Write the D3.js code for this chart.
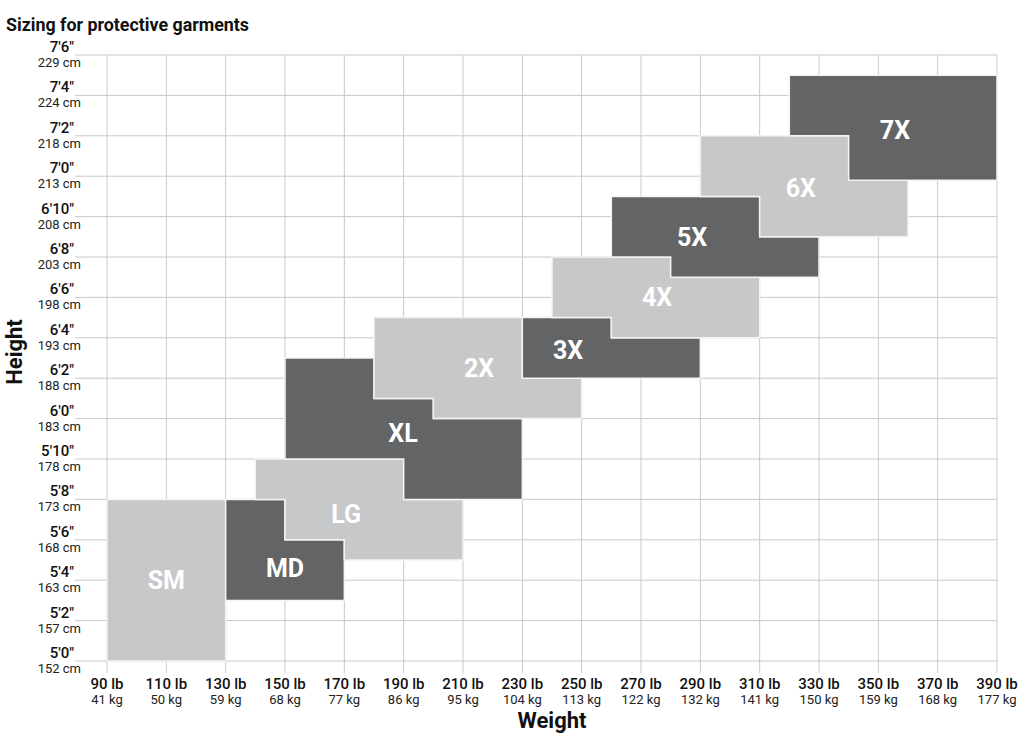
<!DOCTYPE html>
<html>
<head>
<meta charset="utf-8">
<script src="https://cdn.jsdelivr.net/npm/d3@7"></script>
<style>
  html, body { margin: 0; padding: 0; background: #fff; }
  svg { display: block; font-family: Roboto, "Noto Sans", sans-serif; }
</style>
</head>
<body>
<svg id="chart" width="1024" height="746"></svg>
<script>
// ---------------- data ----------------
const titleText = "Sizing for protective garments";
const xTitle = "Weight";
const yTitle = "Height";

// x ticks (weight)
const weightLb = [90,110,130,150,170,190,210,230,250,270,290,310,330,350,370,390];
const weightKg = [41,50,59,68,77,86,95,104,113,122,132,141,150,159,168,177];

// y ticks (height, inches)
const heightIn = [60,62,64,66,68,70,72,74,76,78,80,82,84,86,88,90];
const heightFtLabel = ["5'0\u2033","5'2\u2033","5'4\u2033","5'6\u2033","5'8\u2033","5'10\u2033","6'0\u2033","6'2\u2033","6'4\u2033","6'6\u2033","6'8\u2033","6'10\u2033","7'0\u2033","7'2\u2033","7'4\u2033","7'6\u2033"];
const heightCm = [152,157,163,168,173,178,183,188,193,198,203,208,213,218,224,229];

// garment sizes: outline of each region as [weight lb, height in]
const sizeNames = ["SM","MD","LG","XL","2X","3X","4X","5X","6X","7X"];
const sizeTones = ["light","dark","light","dark","light","dark","light","dark","light","dark"];
const sizeOutlines = [
  [[90,60],[130,60],[130,68],[90,68]],
  [[130,68],[150,68],[150,66],[170,66],[170,63],[130,63]],
  [[140,70],[190,70],[190,68],[210,68],[210,65],[170,65],[170,66],[150,66],[150,68],[140,68]],
  [[150,75],[180,75],[180,73],[200,73],[200,72],[230,72],[230,68],[190,68],[190,70],[150,70]],
  [[180,77],[230,77],[230,74],[250,74],[250,72],[200,72],[200,73],[180,73]],
  [[230,77],[260,77],[260,76],[290,76],[290,74],[230,74]],
  [[240,80],[280,80],[280,79],[310,79],[310,76],[260,76],[260,77],[240,77]],
  [[260,83],[310,83],[310,81],[330,81],[330,79],[280,79],[280,80],[260,80]],
  [[290,86],[340,86],[340,83.8],[360,83.8],[360,81],[310,81],[310,83],[290,83]],
  [[320,89],[390,89],[390,83.8],[340,83.8],[340,86],[320,86]]
];
const labelWeight = [110,150,170.6,189.8,215.4,245.4,275.4,287.2,323.9,355.6];
const labelHeight = [64,64.6,67.3,71.3,74.5,75.4,78,81,83.4,86.3];

// ---------------- drawing ----------------
const svg = d3.select("#chart");
const toneColor = { light: "#c7c8ca", dark: "#636466" };
const gridColor = "#c9c9cb";

const x = d3.scaleLinear().domain([90, 390]).range([107, 997]);
const y = d3.scaleLinear().domain([60, 90]).range([661, 55]);

// grid
const grid = svg.append("g");
grid.selectAll("line.h").data(heightIn).join("line")
  .attr("class", "h")
  .attr("x1", 75).attr("x2", x(390))
  .attr("y1", d => y(d)).attr("y2", d => y(d))
  .attr("stroke", gridColor).attr("stroke-width", 1);
grid.selectAll("line.v").data(weightLb).join("line")
  .attr("class", "v")
  .attr("x1", d => x(d)).attr("x2", d => x(d))
  .attr("y1", y(90)).attr("y2", y(60) + 12)
  .attr("stroke", gridColor).attr("stroke-width", 1);

// size regions
const line = d3.line().x(d => x(d[0])).y(d => y(d[1])).curve(d3.curveLinearClosed);
svg.append("g").selectAll("path").data(sizeOutlines).join("path")
  .attr("d", d => line(d))
  .attr("fill", (d, i) => toneColor[sizeTones[i]])
  .attr("stroke", "#f4f4f4")
  .attr("stroke-width", 1.5)
  .attr("stroke-linejoin", "miter");

svg.append("g").selectAll("text").data(sizeNames).join("text")
  .attr("x", (d, i) => x(labelWeight[i]))
  .attr("y", (d, i) => y(labelHeight[i]))
  .attr("dy", "0.36em")
  .attr("text-anchor", "middle")
  .attr("fill", "#ffffff")
  .attr("font-size", 25)
  .attr("font-weight", 700)
  .text(d => d);

// y axis labels
const yl = svg.append("g");
yl.selectAll("text.ft").data(heightIn).join("text")
  .attr("class", "ft")
  .attr("x", 74).attr("y", d => y(d) - 3)
  .attr("text-anchor", "end")
  .attr("font-size", 15).attr("font-weight", 500).attr("fill", "#111")
  .text((d, i) => heightFtLabel[i]);
yl.selectAll("text.cm").data(heightIn).join("text")
  .attr("class", "cm")
  .attr("x", 81).attr("y", d => y(d) + 12)
  .attr("text-anchor", "end")
  .attr("font-size", 13).attr("font-weight", 400).attr("fill", "#222")
  .text((d, i) => heightCm[i] + " cm");

// x axis labels
const xl = svg.append("g");
xl.selectAll("text.lb").data(weightLb).join("text")
  .attr("class", "lb")
  .attr("x", d => x(d)).attr("y", 689)
  .attr("text-anchor", "middle")
  .attr("font-size", 15).attr("font-weight", 500).attr("fill", "#111")
  .text(d => d + " lb");
xl.selectAll("text.kg").data(weightLb).join("text")
  .attr("class", "kg")
  .attr("x", d => x(d)).attr("y", 704)
  .attr("text-anchor", "middle")
  .attr("font-size", 13).attr("font-weight", 400).attr("fill", "#222")
  .text((d, i) => weightKg[i] + " kg");

// titles
svg.append("text")
  .attr("x", 6).attr("y", 31)
  .attr("font-size", 19).attr("font-weight", 700).attr("fill", "#111")
  .attr("textLength", 243).attr("lengthAdjust", "spacingAndGlyphs")
  .text(titleText);

svg.append("text")
  .attr("x", 552).attr("y", 728)
  .attr("text-anchor", "middle")
  .attr("font-size", 22).attr("font-weight", 700).attr("fill", "#111")
  .text(xTitle);

svg.append("text")
  .attr("transform", "translate(22,352) rotate(-90)")
  .attr("text-anchor", "middle")
  .attr("font-size", 22).attr("font-weight", 700).attr("fill", "#111")
  .text(yTitle);
</script>
</body>
</html>
